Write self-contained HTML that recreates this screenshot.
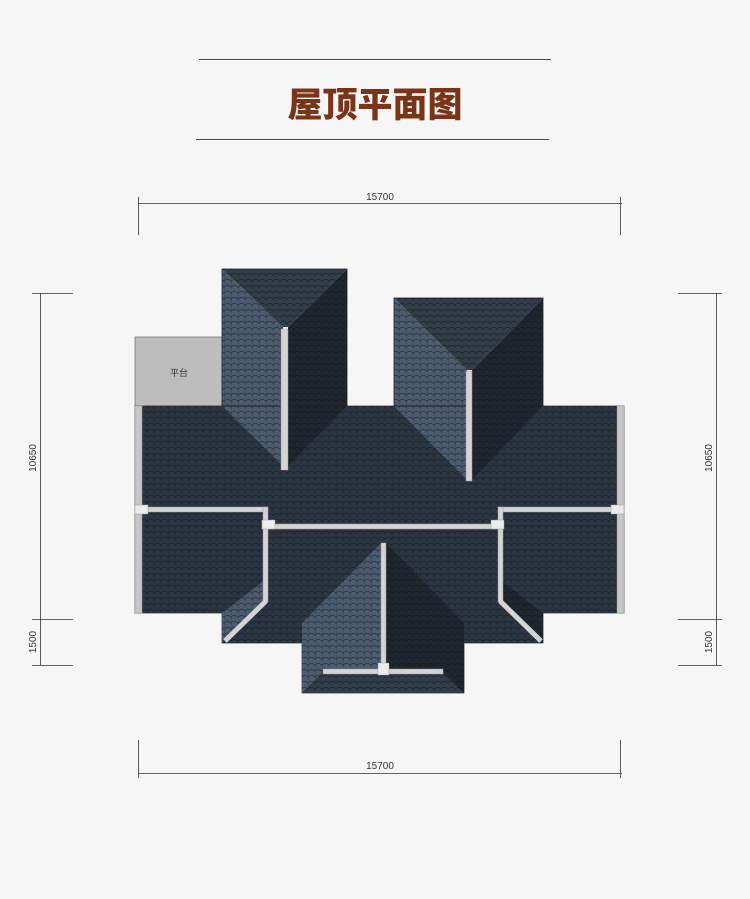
<!DOCTYPE html>
<html><head><meta charset="utf-8"><style>
html,body{margin:0;padding:0;background:#f6f6f6;}
svg{display:block}
</style></head><body>
<svg width="750" height="899" viewBox="0 0 750 899" xmlns="http://www.w3.org/2000/svg">
<defs>
<pattern id="tm" width="7" height="6" patternUnits="userSpaceOnUse">
<rect width="7" height="6" fill="#2c3643"/>
<path d="M0 5.5 Q3.5 1 7 5.5" fill="none" stroke="#1a2028" stroke-width="0.8"/>
<line x1="0" y1="0" x2="0" y2="6" stroke="#1f262e" stroke-width="0.6"/>
</pattern>
<pattern id="tl" width="7" height="6" patternUnits="userSpaceOnUse">
<rect width="7" height="6" fill="#4c5c6e"/>
<path d="M0 5.5 Q3.5 1 7 5.5" fill="none" stroke="#27313c" stroke-width="0.8"/>
<line x1="0" y1="0" x2="0" y2="6" stroke="#2d3743" stroke-width="0.6"/>
</pattern>
<pattern id="td" width="7" height="6" patternUnits="userSpaceOnUse">
<rect width="7" height="6" fill="#1f262e"/>
<path d="M0 5.5 Q3.5 1 7 5.5" fill="none" stroke="#141a20" stroke-width="0.8"/>
</pattern>
<pattern id="tt" width="7" height="6" patternUnits="userSpaceOnUse">
<rect width="7" height="6" fill="#323d4a"/>
<path d="M0 5.5 Q3.5 1 7 5.5" fill="none" stroke="#1c232b" stroke-width="0.8"/>
</pattern>
</defs>
<rect width="750" height="899" fill="#f6f6f6"/>
<!-- title -->
<line x1="199" y1="59.5" x2="551" y2="59.5" stroke="#7a3a1c" stroke-width="1"/>
<line x1="196" y1="139.5" x2="549" y2="139.5" stroke="#7a3a1c" stroke-width="1"/>
<text x="375" y="117" text-anchor="middle" font-family="'Noto Sans CJK SC',sans-serif" font-weight="900" font-size="35" fill="#7a3518">屋顶平面图</text>

<!-- dimensions -->
<g stroke="#333" stroke-width="0.8" fill="none">
<line x1="138" y1="203.5" x2="622" y2="203.5"/>
<line x1="138.5" y1="197" x2="138.5" y2="235"/><line x1="620.5" y1="197" x2="620.5" y2="235"/>
<line x1="138" y1="773.5" x2="622" y2="773.5"/>
<line x1="138.5" y1="740" x2="138.5" y2="778"/><line x1="620.5" y1="740" x2="620.5" y2="778"/>
<line x1="40.5" y1="293" x2="40.5" y2="665"/>
<line x1="32" y1="293.5" x2="73" y2="293.5"/><line x1="32" y1="619.5" x2="73" y2="619.5"/><line x1="32" y1="665.5" x2="73" y2="665.5"/>
<line x1="716.5" y1="293" x2="716.5" y2="665"/>
<line x1="678" y1="293.5" x2="722" y2="293.5"/><line x1="678" y1="619.5" x2="722" y2="619.5"/><line x1="678" y1="665.5" x2="722" y2="665.5"/>
</g>
<g font-family="'Liberation Sans',sans-serif" font-size="10" fill="#333" text-anchor="middle">
<text x="380" y="200">15700</text>
<text x="380" y="769">15700</text>
<text transform="translate(36,458) rotate(-90)">10650</text>
<text transform="translate(36,642) rotate(-90)">1500</text>
<text transform="translate(712,458) rotate(-90)">10650</text>
<text transform="translate(712,642) rotate(-90)">1500</text>
</g>

<!-- platform -->
<rect x="135" y="337" width="87" height="69" fill="#bdbdbd" stroke="#777" stroke-width="0.8"/>
<text x="179" y="376" text-anchor="middle" font-family="'Noto Sans CJK SC',sans-serif" font-size="9" fill="#333">平台</text>

<!-- main roof -->
<path d="M135 406 H624 V613 H543 V643 H464 V693 H302 V643 H222 V613 H135 Z" fill="url(#tm)" stroke="#333" stroke-width="0.8"/>
<polygon points="222,643 222,613 265,580 265,602" fill="url(#tl)"/>
<polygon points="543,643 543,613 500,580 500,602" fill="url(#td)"/>

<!-- left wing -->
<polygon points="222,269 283,327 283,466 222,406" fill="url(#tl)"/>
<polygon points="347,269 288,327 288,466 347,406" fill="url(#td)"/>
<polygon points="222,269 347,269 288,327 283,327" fill="url(#tt)"/>
<rect x="222" y="269" width="125" height="137" fill="none" stroke="#222" stroke-width="0.8"/>
<!-- right wing -->
<polygon points="394,298 467,370 467,480 394,406" fill="url(#tl)"/>
<polygon points="543,298 472,370 472,480 543,406" fill="url(#td)"/>
<polygon points="394,298 543,298 472,370 467,370" fill="url(#tt)"/>
<rect x="394" y="298" width="149" height="108" fill="none" stroke="#222" stroke-width="0.8"/>
<!-- bottom wing -->
<polygon points="302,623 381,543 381,672 323,672 302,693" fill="url(#tl)"/>
<polygon points="464,623 386,543 386,672 443,672 464,693" fill="url(#td)"/>
<polygon points="302,693 323,675 443,675 464,693" fill="url(#tt)"/>

<!-- ridges / gutters -->
<g fill="#d4d4d4" stroke="#999" stroke-width="0.5">
<rect x="281" y="329" width="7" height="141"/>
<rect x="466" y="371" width="6" height="110"/>
<rect x="381" y="543" width="5" height="131"/>
<rect x="323" y="669" width="120" height="5"/>
<rect x="378" y="663" width="11" height="12" fill="#ececec"/>
<rect x="135" y="406" width="7" height="207" fill="#c6c6c6"/>
<rect x="617" y="406" width="7" height="207" fill="#c6c6c6"/>
<rect x="135" y="507" width="133" height="5"/>
<rect x="263" y="507" width="5" height="95"/>
<rect x="498" y="507" width="126" height="5"/>
<rect x="498" y="507" width="5" height="95"/>
<rect x="268" y="524" width="230" height="5"/>
<rect x="135" y="505" width="13" height="9" fill="#ececec"/>
<rect x="262" y="520" width="13" height="9" fill="#ececec"/>
<rect x="491" y="520" width="13" height="9" fill="#ececec"/>
<rect x="611" y="505" width="13" height="9" fill="#ececec"/>
</g>
<g stroke="#d4d4d4" stroke-width="5" stroke-linecap="butt">
<line x1="266" y1="601" x2="225" y2="641"/>
<line x1="500" y1="601" x2="541" y2="641"/>
</g>
</svg>
</body></html>
